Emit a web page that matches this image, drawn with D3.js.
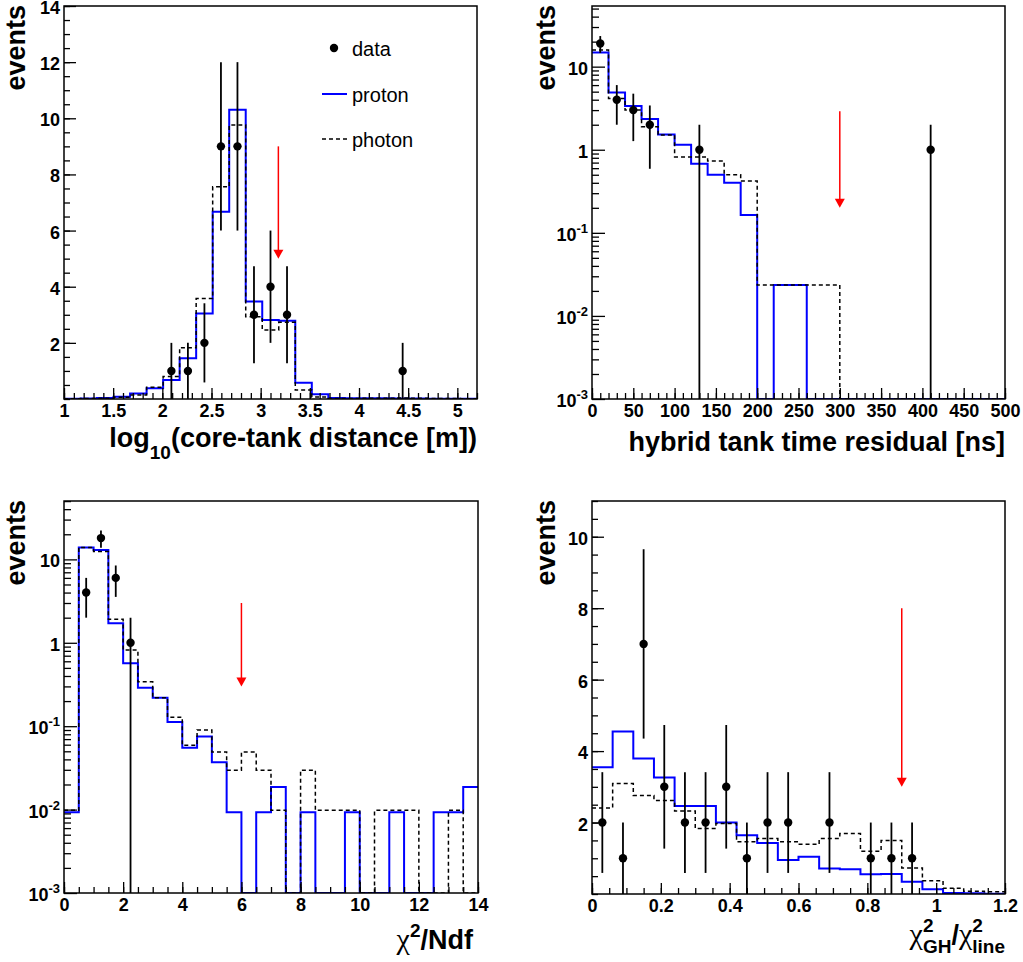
<!DOCTYPE html>
<html><head><meta charset="utf-8">
<script src="https://cdn.jsdelivr.net/npm/d3@7/dist/d3.min.js"></script>
<style>html,body{margin:0;padding:0;background:#fff}</style>
</head>
<body>
<script>
// ================= DATA =================
// Panel A : log10(core-tank distance)
const distRange = [1, 5.2];
const distBins = 25;
const distProton = [0.01, 0.02, 0.04, 0.08, 0.2, 0.38, 0.68, 1.45, 3.05, 6.67, 10.3, 3.47, 2.81, 2.79, 0.58, 0.17, 0.04, 0.03, 0.03, 0.03, 0.02, 0.02, 0.01, 0.01, 0.01];
const distPhoton = [0.01, 0.02, 0.03, 0.06, 0.14, 0.42, 0.8, 1.83, 3.58, 7.56, 9.76, 2.93, 2.46, 2.73, 0.32, 0.07, 0.02, 0.02, 0.03, 0.03, 0.04, 0.03, 0.02, 0.02, 0.01];
const distDataX = [2.092, 2.26, 2.428, 2.596, 2.764, 2.932, 3.1, 3.268, 4.444];
const distDataY = [1, 1, 2, 9, 9, 3, 4, 3, 1];
const distDataErr = [1, 1, 1.41, 3, 3, 1.73, 2, 1.73, 1];
const distXTicks = [1, 1.5, 2, 2.5, 3, 3.5, 4, 4.5, 5];
const distYTicks = [2, 4, 6, 8, 10, 12, 14];

// Panel B : hybrid tank time residual
const timeRange = [0, 500];
const timeBins = 25;
const timeProton = [14.8, 4.9, 3.36, 2.34, 1.53, 1.15, 0.68, 0.50, 0.40, 0.164, 0, 0.0235, 0.0235, 0, 0, 0, 0, 0, 0, 0, 0, 0, 0, 0, 0];
const timePhoton = [15.9, 4.15, 3.0, 1.89, 1.50, 0.82, 0.82, 0.73, 0.50, 0.42, 0.0235, 0.0235, 0.0235, 0.0235, 0.0235, 0, 0, 0, 0, 0, 0, 0, 0, 0, 0];
const timeDataX = [10, 30, 50, 70, 130, 410];
const timeDataY = [19, 4, 3, 2, 1, 1];
const timeDataErr = [4.36, 2, 1.73, 1.41, 1, 1];
const timeXTicks = [0, 50, 100, 150, 200, 250, 300, 350, 400, 450, 500];

// Panel C : chi2/Ndf
const chiRange = [0, 14];
const chiBins = 28;
const chiProton = [0.0093, 13.9, 13.0, 1.71, 0.57, 0.29, 0.22, 0.112, 0.055, 0.075, 0.037, 0.0093, 0, 0.0093, 0.0187, 0, 0.0093, 0, 0, 0.0093, 0, 0, 0.0093, 0, 0, 0.0093, 0.0093, 0.0187];
const chiPhoton = [0.0098, 13.9, 12.4, 1.91, 0.82, 0.34, 0.22, 0.128, 0.059, 0.09, 0.049, 0.0297, 0.049, 0.0297, 0.0098, 0, 0.0297, 0.0098, 0.0098, 0.0098, 0, 0.0098, 0.0098, 0.0098, 0, 0, 0.0098, 0];
const chiDataX = [0.75, 1.25, 1.75, 2.25];
const chiDataY = [4, 18, 6, 1];
const chiDataErr = [2, 4.24, 2.45, 1];
const chiXTicks = [0, 2, 4, 6, 8, 10, 12, 14];

// Panel D : chi2_GH / chi2_line
const ratioRange = [0, 1.2];
const ratioBins = 20;
const ratioProton = [3.55, 4.55, 3.79, 3.26, 2.46, 2.46, 2.0, 1.645, 1.43, 0.95, 1.04, 0.715, 0.69, 0.55, 0.56, 0.34, 0.13, 0.03, 0.02, 0.01];
const ratioPhoton = [2.41, 3.09, 2.76, 2.62, 2.32, 1.83, 1.97, 1.46, 1.55, 1.46, 1.39, 1.55, 1.69, 1.2, 1.5, 0.73, 0.37, 0.16, 0.08, 0.06];
const ratioDataX = [0.03, 0.09, 0.15, 0.21, 0.27, 0.33, 0.39, 0.45, 0.51, 0.57, 0.69, 0.81, 0.87, 0.93];
const ratioDataY = [2, 1, 7, 3, 2, 2, 3, 1, 2, 2, 2, 1, 1, 1];
const ratioDataErr = [1.41, 1, 2.65, 1.73, 1.41, 1.41, 1.73, 1, 1.41, 1.41, 1.41, 1, 1, 1];
const ratioXTicks = [0, 0.2, 0.4, 0.6, 0.8, 1, 1.2];
const ratioYTicks = [2, 4, 6, 8, 10];

// log-axis decades
const logDecades = [0.001, 0.01, 0.1, 1, 10];

// cut arrows: x, from, to
const cutX = [3.18, 300, 6, 0.9];
const cutFrom = [9, 2.9, 3, 8];
const cutTo = [5, 0.2, 0.3, 3];

const legendLabels = ["data", "proton", "photon"];

// ================= DRAWING =================
const SANS = "'Liberation Sans', Arial, Helvetica, sans-serif";
const SERIF = "'Liberation Serif', 'Times New Roman', serif";
const BLUE = "#0000ff";
const svg = d3.select("body").append("svg")
  .attr("width", 1023).attr("height", 962)
  .style("display", "block").style("background", "#fff");

function richText(parent, x, y, anchor, parts) {
  const grp = parent.append("g");
  let cx = 0, lastStart = 0;
  parts.forEach(p => {
    const el = grp.append("text")
      .attr("font-family", p.family || SANS)
      .attr("font-size", p.size)
      .attr("font-weight", p.weight || "bold")
      .attr("fill", "#000")
      .text(p.t);
    const w = el.node().getComputedTextLength();
    const start = p.stack ? lastStart : cx;
    el.attr("x", start).attr("y", p.shift || 0);
    lastStart = start;
    cx = Math.max(cx, start + w);
  });
  const tx = anchor === "end" ? x - cx : x;
  grp.attr("transform", `translate(${tx},${y})`);
  return grp;
}

const panels = [
  { id: "A", frame: { l: 64, r: 477, t: 6, b: 399 }, xDom: distRange, nb: distBins, log: false, yDom: [0, 14],
    proton: distProton, photon: distPhoton, dX: distDataX, dY: distDataY, dE: distDataErr,
    xMaj: distXTicks, xMinStep: 0.1, yMaj: distYTicks, yMinStep: 0.5, cut: 0,
    xTitle: [{ t: "log", size: 27 }, { t: "10", size: 19, shift: 12 }, { t: "(core-tank distance [m])", size: 27 }],
    xTitlePos: [477, 447], yTitlePos: [25, 5], legend: true },
  { id: "B", frame: { l: 592, r: 1005, t: 6, b: 399 }, xDom: timeRange, nb: timeBins, log: true, yDom: [0.001, Math.pow(10, 1.73)],
    proton: timeProton, photon: timePhoton, dX: timeDataX, dY: timeDataY, dE: timeDataErr,
    xMaj: timeXTicks, xMinStep: 10, cut: 1,
    xTitle: [{ t: "hybrid tank time residual [ns]", size: 27 }],
    xTitlePos: [1005, 451], yTitlePos: [555, 5] },
  { id: "C", frame: { l: 64, r: 478, t: 501, b: 893 }, xDom: chiRange, nb: chiBins, log: true, yDom: [0.001, Math.pow(10, 1.70)],
    proton: chiProton, photon: chiPhoton, dX: chiDataX, dY: chiDataY, dE: chiDataErr,
    xMaj: chiXTicks, xMinStep: 0.5, cut: 2,
    xTitle: [{ t: "\u03c7", size: 30, family: SERIF, weight: "normal" }, { t: "2", size: 19, shift: -12 }, { t: "/Ndf", size: 27 }],
    xTitlePos: [473, 949], yTitlePos: [25, 500] },
  { id: "D", frame: { l: 592, r: 1005, t: 501, b: 894 }, xDom: ratioRange, nb: ratioBins, log: false, yDom: [0, 11],
    proton: ratioProton, photon: ratioPhoton, dX: ratioDataX, dY: ratioDataY, dE: ratioDataErr,
    xMaj: ratioXTicks, xMinStep: 0.05, yMaj: ratioYTicks, yMinStep: 0.5, cut: 3,
    xTitle: [{ t: "\u03c7", size: 30, family: SERIF, weight: "normal" }, { t: "2", size: 19, shift: -12 }, { t: "GH", size: 19, shift: 9, stack: true },
             { t: "/", size: 27 }, { t: "\u03c7", size: 30, family: SERIF, weight: "normal" }, { t: "2", size: 19, shift: -12 }, { t: "line", size: 19, shift: 9, stack: true }],
    xTitlePos: [1005, 944], yTitlePos: [555, 500] }
];

const fmt = d => String(+d.toFixed(2));

panels.forEach(P => {
  const { l, r, t, b } = P.frame;
  const g = svg.append("g");
  const x = d3.scaleLinear().domain(P.xDom).range([l, r]);
  const y = P.log ? d3.scaleLog().domain(P.yDom).range([b, t]) : d3.scaleLinear().domain(P.yDom).range([b, t]);
  const ymin = P.yDom[0];
  const yv = v => (P.log && v <= ymin) ? b : y(Math.max(v, P.log ? ymin : P.yDom[0]));

  const clipId = "clip" + P.id;
  g.append("clipPath").attr("id", clipId).append("rect")
    .attr("x", l).attr("y", t).attr("width", r - l).attr("height", b - t);
  const plot = g.append("g").attr("clip-path", `url(#${clipId})`);

  const edges = d3.range(P.nb + 1).map(i => P.xDom[0] + i * (P.xDom[1] - P.xDom[0]) / P.nb);
  const stepPts = vals => {
    const pts = [];
    vals.forEach((v, i) => { const yy = yv(v); pts.push([x(edges[i]), yy], [x(edges[i + 1]), yy]); });
    return pts;
  };
  const line = d3.line();

  plot.append("path").attr("d", line(stepPts(P.proton)))
    .attr("fill", "none").attr("stroke", BLUE).attr("stroke-width", 2);
  plot.append("path").attr("d", line(stepPts(P.photon)))
    .attr("fill", "none").attr("stroke", "#000").attr("stroke-width", 1.5).attr("stroke-dasharray", "4,3");

  // data points
  const pts = d3.zip(P.dX, P.dY, P.dE);
  plot.selectAll("line.eb").data(pts).join("line").attr("class", "eb")
    .attr("x1", d => x(d[0])).attr("x2", d => x(d[0]))
    .attr("y1", d => yv(d[1] - d[2])).attr("y2", d => yv(d[1] + d[2]))
    .attr("stroke", "#000").attr("stroke-width", 1.8);
  plot.selectAll("circle.pt").data(pts).join("circle").attr("class", "pt")
    .attr("cx", d => x(d[0])).attr("cy", d => yv(d[1])).attr("r", 4.2).attr("fill", "#000");

  // cut arrow
  const ci = P.cut;
  const ax = x(cutX[ci]), ay0 = y(cutFrom[ci]), ay1 = y(cutTo[ci]);
  g.append("line").attr("x1", ax).attr("x2", ax).attr("y1", ay0).attr("y2", ay1 - 6)
    .attr("stroke", "#ff0000").attr("stroke-width", 1.5);
  g.append("path").attr("d", `M${ax - 5},${ay1 - 9}L${ax + 5},${ay1 - 9}L${ax},${ay1}Z`).attr("fill", "#ff0000");

  // axes
  const styleAxis = sel => {
    sel.select(".domain").remove();
    sel.selectAll("line").attr("stroke", "#000").attr("stroke-width", 1.3);
    sel.attr("font-family", SANS).attr("font-size", 18).attr("font-weight", "bold");
    sel.selectAll("text").attr("fill", "#000");
  };
  const xMinors = d3.range(P.xDom[0], P.xDom[1] + 1e-9, P.xMinStep);
  g.append("g").attr("transform", `translate(0,${b})`)
    .call(d3.axisBottom(x).tickValues(xMinors).tickSize(-6).tickFormat(""))
    .call(styleAxis);
  g.append("g").attr("transform", `translate(0,${b})`)
    .call(d3.axisBottom(x).tickValues(P.xMaj).tickSize(-11).tickPadding(5).tickFormat(fmt))
    .call(styleAxis);

  if (P.log) {
    const minors = [];
    logDecades.forEach(dec => d3.range(2, 10).forEach(k => { const v = k * dec; if (v < P.yDom[1]) minors.push(v); }));
    g.append("g").attr("transform", `translate(${l},0)`)
      .call(d3.axisLeft(y).tickValues(minors).tickSize(-7).tickFormat(""))
      .call(styleAxis);
    const ax2 = g.append("g").attr("transform", `translate(${l},0)`)
      .call(d3.axisLeft(y).tickValues(logDecades).tickSize(-13).tickPadding(4).tickFormat(""))
      .call(styleAxis);
    ax2.selectAll("text").attr("dy", "0.42em").each(function (d) {
      const el = d3.select(this);
      const e = Math.round(Math.log10(d));
      if (e === 0) el.text("1");
      else if (e === 1) el.text("10");
      else {
        el.text("10");
        el.append("tspan").attr("dy", -8).attr("font-size", 13).text(String(e));
      }
    });
  } else {
    const yMinors = d3.range(P.yDom[0], P.yDom[1] + 1e-9, P.yMinStep);
    g.append("g").attr("transform", `translate(${l},0)`)
      .call(d3.axisLeft(y).tickValues(yMinors).tickSize(-6).tickFormat(""))
      .call(styleAxis);
    g.append("g").attr("transform", `translate(${l},0)`)
      .call(d3.axisLeft(y).tickValues(P.yMaj).tickSize(-12).tickPadding(4).tickFormat(fmt))
      .call(styleAxis)
      .selectAll("text").attr("dy", "0.42em");
  }

  // frame
  g.append("rect").attr("x", l).attr("y", t).attr("width", r - l).attr("height", b - t)
    .attr("fill", "none").attr("stroke", "#000").attr("stroke-width", 1.5);

  // titles
  richText(g, P.xTitlePos[0], P.xTitlePos[1], "end", P.xTitle);
  g.append("text").attr("transform", `translate(${P.yTitlePos[0]},${P.yTitlePos[1]}) rotate(-90)`)
    .attr("text-anchor", "end").attr("font-family", SANS).attr("font-size", 27).attr("font-weight", "bold")
    .attr("fill", "#000").text("events");

  // legend
  if (P.legend) {
    const lx = l + 270, tx = l + 288;
    const rows = [t + 42, t + 88, t + 133];
    g.append("circle").attr("cx", lx).attr("cy", rows[0]).attr("r", 4.2).attr("fill", "#000");
    g.append("line").attr("x1", lx - 12).attr("x2", lx + 13).attr("y1", rows[1]).attr("y2", rows[1])
      .attr("stroke", BLUE).attr("stroke-width", 2);
    g.append("line").attr("x1", lx - 12).attr("x2", lx + 13).attr("y1", rows[2]).attr("y2", rows[2])
      .attr("stroke", "#000").attr("stroke-width", 1.5).attr("stroke-dasharray", "4,3");
    legendLabels.forEach((lab, i) => {
      g.append("text").attr("x", tx).attr("y", rows[i] + 8)
        .attr("font-family", SANS).attr("font-size", 20).attr("fill", "#000").text(lab);
    });
  }
});
</script>
</body></html>
